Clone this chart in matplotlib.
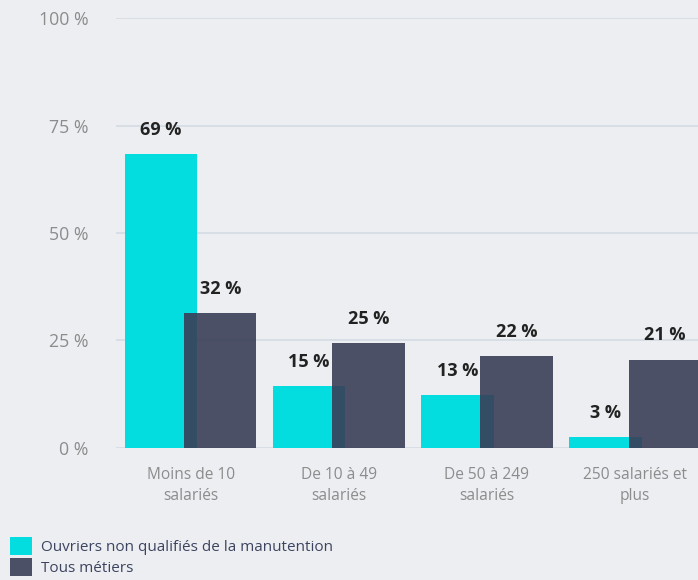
import matplotlib.pyplot as plt
import numpy as np

plt.rcParams['font.family'] = ['Open Sans', 'DejaVu Sans']

# data
categories = ["Moins de 10\nsalariés", "De 10 à 49\nsalariés",
              "De 50 à 249\nsalariés", "250 salariés et\nplus"]
ouvriers = [68.4, 14.3, 12.2, 2.4]
tous = [31.3, 24.3, 21.3, 20.5]
ouvriers_labels = ["69 %", "15 %", "13 %", "3 %"]
tous_labels = ["32 %", "25 %", "22 %", "21 %"]
series_names = ["Ouvriers non qualifiés de la manutention", "Tous métiers"]
y_ticks = [0, 25, 50, 75, 100]

bg = '#eceef1'
cyan = '#04dde0'
dark = '#393f57'

fig = plt.figure(figsize=(6.98, 5.80), dpi=100, facecolor=bg)
ax = fig.add_axes([0.1658, 0.2284, 0.8342, 0.740], facecolor=bg)

x = np.arange(len(categories))
width = 0.4885
shift = 0.200

b1 = ax.bar(x - shift, ouvriers, width, color=cyan, zorder=2, label=series_names[0])
b2 = ax.bar(x + shift, tous, width, color=dark, alpha=0.9, zorder=3, label=series_names[1])

for rect, lab in zip(b1, ouvriers_labels):
    ax.annotate(lab, (rect.get_x() + rect.get_width() / 2, rect.get_height()),
                xytext=(0, 11), textcoords='offset points', ha='center', va='bottom',
                fontsize=13, fontweight='bold', color='#222222', zorder=5)
for rect, lab in zip(b2, tous_labels):
    ax.annotate(lab, (rect.get_x() + rect.get_width() / 2, rect.get_height()),
                xytext=(0, 11), textcoords='offset points', ha='center', va='bottom',
                fontsize=13, fontweight='bold', color='#222222', zorder=5)

ax.set_xlim(-0.505, 3.424)
ax.set_ylim(0, 100)
ax.set_yticks(y_ticks)
ax.set_yticklabels([f"{v} %" for v in y_ticks])
ax.set_xticks(x)
ax.set_xticklabels(categories, linespacing=1.4)
ax.tick_params(axis='y', length=0, pad=19.5, labelsize=12.8, labelcolor='#8c8c8c')
ax.tick_params(axis='x', length=0, pad=14, labelsize=11.2, labelcolor='#8c8c8c')
ax.yaxis.grid(True, color='#d3dbe3', linewidth=1.2, zorder=0)
ax.set_axisbelow(True)
for s in ax.spines.values():
    s.set_visible(False)

fig.legend(handles=[b1, b2], labels=series_names, loc='lower left',
           bbox_to_anchor=(-0.001, -0.012), frameon=False, fontsize=11,
           labelcolor='#3d4460', handlelength=1.45, handleheight=1.45,
           handletextpad=0.55, labelspacing=0.18, borderpad=0.2)

fig.savefig('out.png', dpi=100, facecolor=bg)
